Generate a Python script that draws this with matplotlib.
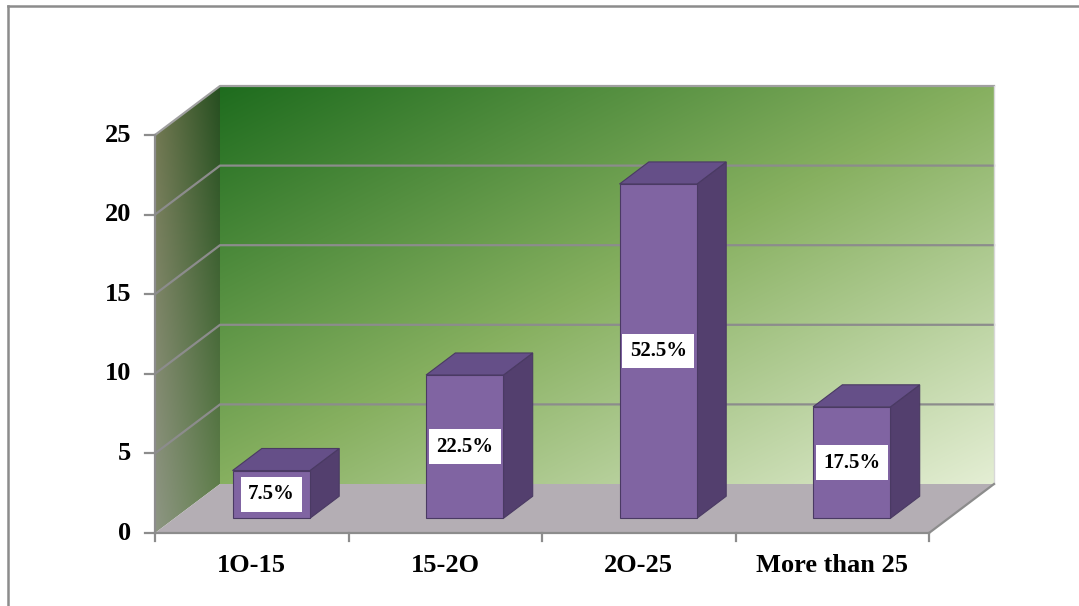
import matplotlib
matplotlib.use("Agg")
import matplotlib.pyplot as plt
import numpy as np
from matplotlib.patches import Polygon
from matplotlib.lines import Line2D

categories = ["1O-15", "15-2O", "2O-25", "More than 25"]
counts = [3, 9, 21, 7]
yticks = [0, 5, 10, 15, 20, 25]

total = sum(counts)
percents = [c / total * 100 for c in counts]

# pixel scale of one category / one unit on the front plane
PX_X = 193.5
PX_V = 15.92
DX = 65 / PX_X      # full depth shift, in category units
DY = 49 / PX_V      # full depth shift, in value units
YMAX = 25
N = len(categories)

FONT = "Liberation Serif"
GRID = "#8c8c8c"


def P(x, v, d):
    return (x + d * DX, v + d * DY)


fig = plt.figure(figsize=(10.79, 6.06), dpi=100)
ax = fig.add_axes([0, 0, 1, 1])
xlim = (-155 / PX_X, (1079 - 155) / PX_X)
ylim = (-(606 - 533) / PX_V, 533 / PX_V)


def gradient(c_tl, c_tr, c_bl, c_br, n=200):
    u = np.linspace(0, 1, n)[None, :, None]
    w = np.linspace(1, 0, n)[:, None, None]   # row 0 is top
    c_tl, c_tr, c_bl, c_br = [np.array(c, float)[None, None, :] / 255 for c in (c_tl, c_tr, c_bl, c_br)]
    top = c_tl * (1 - u) + c_tr * u
    bot = c_bl * (1 - u) + c_br * u
    return top * w + bot * (1 - w)


# back wall: diagonal green gradient
n = 300
u = np.linspace(0, 1, n)[None, :]
w = np.linspace(1, 0, n)[:, None]
t = (u + (1 - w)) / 2
stops = np.array([[30, 108, 30], [135, 176, 96], [228, 238, 212]], float) / 255
img = np.empty((n, n, 3))
for k in range(3):
    img[..., k] = np.interp(t, [0, 0.5, 1], stops[:, k])
x0, v0 = P(0, 0, 1)
ax.imshow(img, extent=(x0, x0 + N, v0, v0 + YMAX), aspect="auto", zorder=1, interpolation="bilinear")

# left side wall
lw_poly = [P(0, 0, 0), P(0, 0, 1), P(0, YMAX, 1), P(0, YMAX, 0)]
clip = Polygon(lw_poly, closed=True, transform=ax.transData, facecolor="none", edgecolor="none")
ax.add_patch(clip)
side = gradient((112, 118, 78), (38, 78, 32), (142, 150, 132), (100, 130, 78))
im = ax.imshow(side, extent=(0, DX, 0, YMAX + DY), aspect="auto", zorder=1, interpolation="bilinear")
im.set_clip_path(clip)

# floor
floor = [P(0, 0, 0), P(N, 0, 0), P(N, 0, 1), P(0, 0, 1)]
ax.add_patch(Polygon(floor, closed=True, facecolor="#b4aeb4", edgecolor="none", zorder=2))

# gridlines on the walls
for v in yticks[1:-1]:
    a, b, c = P(0, v, 0), P(0, v, 1), P(N, v, 1)
    ax.plot([a[0], b[0], c[0]], [a[1], b[1], c[1]], color=GRID, lw=1.6, zorder=3)

# wall and axis edges
a, b, c = P(0, YMAX, 0), P(0, YMAX, 1), P(N, YMAX, 1)
ax.plot([a[0], b[0], c[0]], [a[1], b[1], c[1]], color="#a0a0a0", lw=1.6, zorder=3)
a, b = P(N, 0, 1), P(N, YMAX, 1)
ax.plot([a[0], b[0]], [a[1], b[1]], color="#d8d8d8", lw=1.0, zorder=3)
a, b = P(N, 0, 0), P(N, 0, 1)
ax.plot([a[0], b[0]], [a[1], b[1]], color=GRID, lw=1.6, zorder=3)
ax.plot([0, 0], [0, YMAX], color=GRID, lw=1.6, zorder=4)
ax.plot([0, N], [0, 0], color=GRID, lw=1.6, zorder=4)

# tick marks and labels
tick_dx = 10 / PX_X
tick_dv = 8 / PX_V
for v in yticks:
    ax.plot([-tick_dx, 0], [v, v], color=GRID, lw=1.6, zorder=4)
    ax.text(-24 / PX_X, v, str(v), ha="right", va="center", fontsize=19,
            fontweight="bold", family=FONT, zorder=5)
for i in range(N + 1):
    ax.plot([i, i], [0, -tick_dv], color=GRID, lw=1.6, zorder=4)
for i, name in enumerate(categories):
    ax.text(i + 0.5, -32 / PX_V, name, ha="center", va="center", fontsize=19,
            fontweight="bold", family=FONT, zorder=5)

# 3D bars
BAR_W = 0.4
D0, D1 = 0.3, 0.75
FRONT, SIDE, TOP, EDGE = "#8064a2", "#533f6e", "#654f88", "#4a3a63"
for i, (h, pct) in enumerate(zip(counts, percents)):
    xa, xb = i + 0.5 - BAR_W / 2, i + 0.5 + BAR_W / 2
    side_face = [P(xb, 0, D0), P(xb, 0, D1), P(xb, h, D1), P(xb, h, D0)]
    top_face = [P(xa, h, D0), P(xb, h, D0), P(xb, h, D1), P(xa, h, D1)]
    front_face = [P(xa, 0, D0), P(xb, 0, D0), P(xb, h, D0), P(xa, h, D0)]
    for poly, col in ((side_face, SIDE), (top_face, TOP), (front_face, FRONT)):
        ax.add_patch(Polygon(poly, closed=True, facecolor=col, edgecolor=EDGE,
                             lw=0.8, zorder=6))
    cx, cy = P(i + 0.5, h / 2, D0)
    ax.text(cx, cy, f"{pct:.1f}%", ha="center", va="center", fontsize=15,
            fontweight="bold", family=FONT, zorder=7,
            bbox=dict(boxstyle="square,pad=0.35", facecolor="white", edgecolor="none"))

ax.set_xlim(*xlim)
ax.set_ylim(*ylim)
ax.axis("off")

# outer chart border (left and top edges fall inside the canvas)
fx, fy = 8 / 1079, 1 - 6 / 606
fig.add_artist(Line2D([fx, fx], [-0.05, fy], color="#8c8c8c", lw=1.8, transform=fig.transFigure))
fig.add_artist(Line2D([fx, 1.05], [fy, fy], color="#8c8c8c", lw=1.8, transform=fig.transFigure))

fig.savefig("out.png", dpi=100)
